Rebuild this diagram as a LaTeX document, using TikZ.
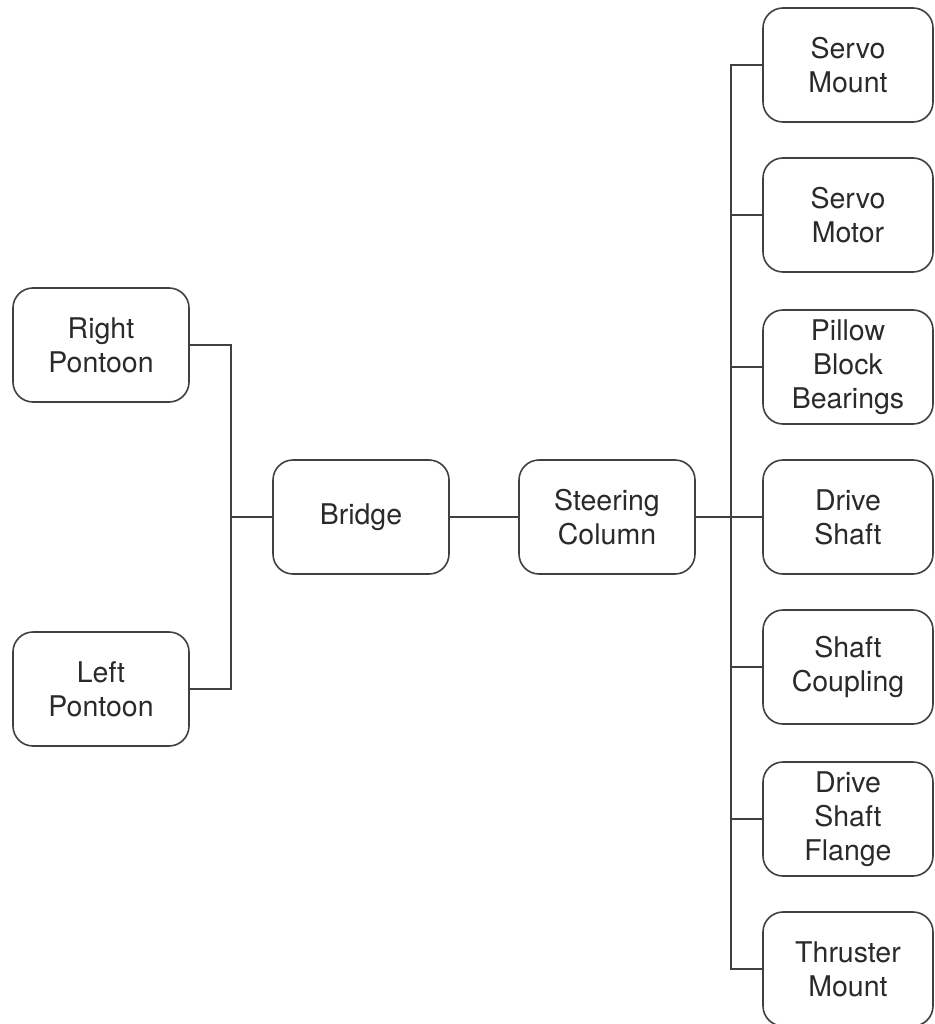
\documentclass[tikz,border=0pt]{standalone}
\usepackage{fontspec}
\setmainfont{TeX Gyre Heros}
\begin{document}
\begin{tikzpicture}[x=1pt,y=-1pt,
  part/.style={draw=linegray, line width=1.6pt, rounded corners=20pt,
    minimum height=114pt, inner sep=0pt, align=center, text=textgray,
    font=\fontsize{28.5}{34}\selectfont},
  leftpart/.style={part, minimum width=176pt},
  rightpart/.style={part, minimum width=170pt},
  link/.style={draw=linegray, line width=1.6pt}]
\definecolor{linegray}{HTML}{404040}
\definecolor{textgray}{HTML}{2A2A2A}
\useasboundingbox (0,0) rectangle (934,1024);

% hull and bridge
\node[leftpart] (rp) at (101,345) {Right\\Pontoon};
\node[leftpart] (lp) at (101,689) {Left\\Pontoon};
\node[leftpart] (br) at (361,517) {Bridge};
\node[leftpart] (sc) at (607,517) {Steering\\Column};

% steering parts
\node[rightpart] (smt) at (848,65)  {Servo\\Mount};
\node[rightpart] (smo) at (848,215) {Servo\\Motor};
\node[rightpart] (pbb) at (848,367) {Pillow\\Block\\Bearings};
\node[rightpart] (dsh) at (848,517) {Drive\\Shaft};
\node[rightpart] (scp) at (848,667) {Shaft\\Coupling};
\node[rightpart] (dsf) at (848,819) {Drive\\Shaft\\Flange};
\node[rightpart] (thm) at (848,969) {Thruster\\Mount};

% junction points
\coordinate (ltrunk) at (231,517);
\coordinate (rtrunk) at (731,517);

% left tree
\draw[link] (rp.east) -| (ltrunk) |- (lp.east);
\draw[link] (ltrunk) -- (br.west);
\draw[link] (br.east) -- (sc.west);

% right tree
\draw[link] (smt.west) -| (rtrunk) |- (thm.west);
\draw[link] (sc.east) -- (dsh.west);
\draw[link] (smo.west) -- (smo.west -| rtrunk);
\draw[link] (pbb.west) -- (pbb.west -| rtrunk);
\draw[link] (scp.west) -- (scp.west -| rtrunk);
\draw[link] (dsf.west) -- (dsf.west -| rtrunk);
\end{tikzpicture}
\end{document}
